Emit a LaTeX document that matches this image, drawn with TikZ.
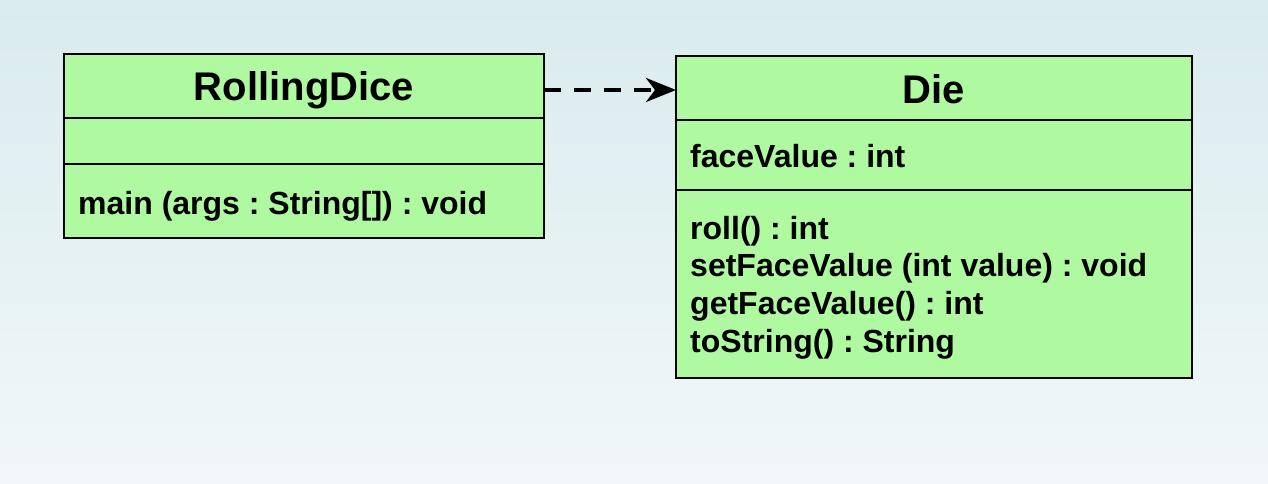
\documentclass[tikz,border=0pt]{standalone}
\usepackage{fontspec}
\setmainfont{Liberation Sans}
\usetikzlibrary{arrows.meta}
\definecolor{umlgreen}{HTML}{AFF9A0}
\definecolor{bgtop}{HTML}{D9EBEE}
\definecolor{bgbot}{HTML}{F1F7F9}
\frenchspacing
\begin{document}
\begin{tikzpicture}[x=1pt,y=-1pt,
  comp/.style={draw=black, line width=2pt, fill=umlgreen, rectangle, anchor=north west, inner sep=0pt, outer sep=0pt},
  classtitle/.style={font=\fontsize{40}{48}\selectfont\bfseries, anchor=base, inner sep=0pt},
  member/.style={font=\fontsize{32}{38}\selectfont\bfseries\frenchspacing, anchor=base west, inner sep=0pt},
  dep/.style={line width=4pt, dash pattern=on 17pt off 13pt, -{Stealth[length=30pt,width=24pt,inset=9pt]}}]
\shade[top color=bgtop, bottom color=bgbot] (0,0) rectangle (1268,484);
\useasboundingbox (0,0) rectangle (1268,484);
% RollingDice
\node[comp, minimum width=480pt, minimum height=64pt] (rd) at (64,54) {};
\node[comp, minimum width=480pt, minimum height=46pt] (rdattr) at (64,118) {};
\node[comp, minimum width=480pt, minimum height=74pt] (rdops) at (64,164) {};
\node[classtitle] (rdtitle) at (304,101) {RollingDice};
\node[member] (rdm1) at (78,214) {main (args : String[]) : void};
% Die
\node[comp, minimum width=516pt, minimum height=64pt] (die) at (676,56) {};
\node[comp, minimum width=516pt, minimum height=70pt] (dieattr) at (676,120) {};
\node[comp, minimum width=516pt, minimum height=188pt] (dieops) at (676,190) {};
\node[classtitle] (dietitle) at (934,103) {Die};
\node[member] (diea1) at (690,167) {faceValue : int};
\node[member] (diem1) at (690,239) {roll() : int};
\node[member] (diem2) at (690,276.7) {setFaceValue (int value) : void};
\node[member] (diem3) at (690,314.4) {getFaceValue() : int};
\node[member] (diem4) at (690,352) {toString() : String};
% dependency
\draw[dep] (rd.east |- 0,90) -- (die.west |- 0,90);
\end{tikzpicture}
\end{document}
